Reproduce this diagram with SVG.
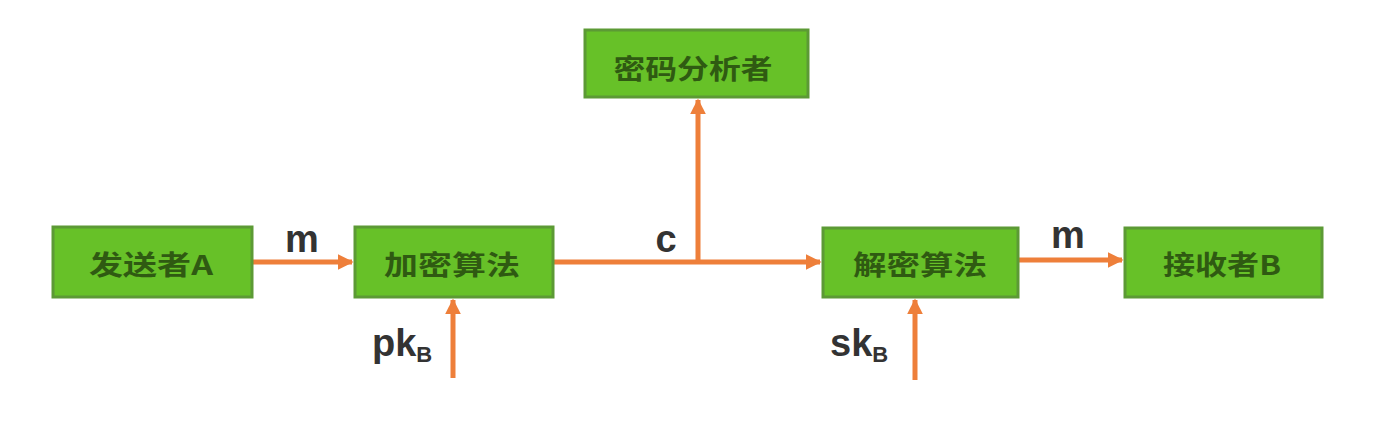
<svg xmlns="http://www.w3.org/2000/svg" width="1382" height="424" viewBox="0 0 1382 424">
<style>
.box{fill:#67c128;stroke:#5c9a35;stroke-width:3}
.lbl{font-family:"Noto Sans CJK SC","Liberation Sans",sans-serif;font-size:27px;font-weight:bold;fill:#2f5a12;text-anchor:middle;dominant-baseline:central}
.edge{stroke:#ee7f3a;stroke-width:5;fill:none}
.etxt{font-family:"Liberation Sans",Arial,sans-serif;font-weight:bold;font-size:38px;fill:#333333}
.sub{font-size:22px}
</style>
<defs>
<marker id="ah" viewBox="0 0 10 10" refX="9" refY="5" markerWidth="3.2" markerHeight="3.2" orient="auto" markerUnits="strokeWidth">
<path d="M0,0 L10,5 L0,10 z" fill="#ee7f3a"/>
</marker>
</defs>
<rect width="1382" height="424" fill="#ffffff"/>
<g id="connectors">
<line class="edge" x1="253" y1="262" x2="352" y2="262" marker-end="url(#ah)"/>
<line class="edge" x1="554" y1="262" x2="820" y2="262" marker-end="url(#ah)"/>
<line class="edge" x1="698" y1="262" x2="698" y2="100" marker-end="url(#ah)"/>
<line class="edge" x1="1019" y1="260" x2="1122" y2="260" marker-end="url(#ah)"/>
<line class="edge" x1="453" y1="378" x2="453" y2="300" marker-end="url(#ah)"/>
<line class="edge" x1="915" y1="380" x2="915" y2="300" marker-end="url(#ah)"/>
<text class="etxt" x="302" y="252" text-anchor="middle">m</text>
<text class="etxt" x="666" y="252" text-anchor="middle">c</text>
<text class="etxt" x="1068" y="248" text-anchor="middle">m</text>
<text class="etxt" x="372" y="356">pk<tspan class="sub" dy="6">B</tspan></text>
<text class="etxt" x="830" y="356">sk<tspan class="sub" dy="6">B</tspan></text>
</g>
<g id="sender">
<rect class="box" x="53" y="227" width="199" height="70"/>
<text class="lbl" x="151" y="263" textLength="124" lengthAdjust="spacingAndGlyphs">发送者A</text>
</g>
<g id="encrypt">
<rect class="box" x="355" y="227" width="198" height="70"/>
<text class="lbl" x="452" y="263" textLength="136" lengthAdjust="spacingAndGlyphs">加密算法</text>
</g>
<g id="analyst">
<rect class="box" x="585" y="30" width="223" height="67"/>
<text class="lbl" x="693" y="67" textLength="159" lengthAdjust="spacingAndGlyphs">密码分析者</text>
</g>
<g id="decrypt">
<rect class="box" x="823" y="228" width="195" height="69"/>
<text class="lbl" x="920" y="263" textLength="134" lengthAdjust="spacingAndGlyphs">解密算法</text>
</g>
<g id="receiver">
<rect class="box" x="1125" y="228" width="197" height="69"/>
<text class="lbl" x="1222" y="263" textLength="118" lengthAdjust="spacingAndGlyphs">接收者B</text>
</g>
</svg>
